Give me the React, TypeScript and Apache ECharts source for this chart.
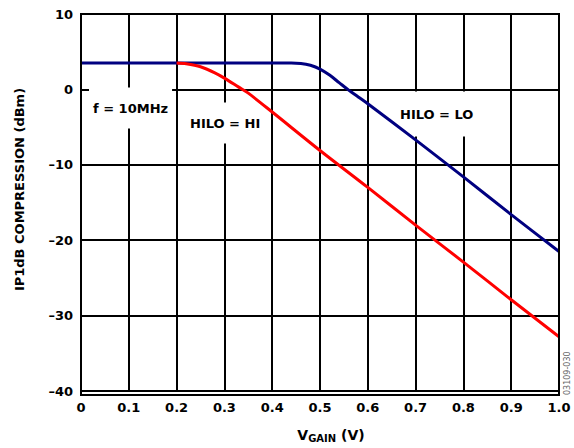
import React, { useEffect, useRef } from "react";
import * as echarts from "echarts";

const xTicks = [0, 0.1, 0.2, 0.3, 0.4, 0.5, 0.6, 0.7, 0.8, 0.9, 1.0];
const yTicks = [10, 0, -10, -20, -30, -40];

const loX = [0, 0.1, 0.2, 0.3, 0.4, 0.44, 0.46, 0.48, 0.5, 0.52, 0.54, 0.56, 0.58, 0.6, 0.7, 0.8, 0.9, 1.0];
const loY = [3.5, 3.5, 3.5, 3.5, 3.5, 3.5, 3.45, 3.2, 2.7, 1.9, 0.9, -0.1, -1.0, -1.9, -6.7, -11.6, -16.6, -21.5];

const hiX = [0.2, 0.22, 0.25, 0.28, 0.3, 0.33, 0.35, 0.4, 0.5, 0.6, 0.7, 0.8, 0.9, 1.0];
const hiY = [3.5, 3.4, 3.0, 2.2, 1.5, 0.3, -0.5, -3.0, -8.1, -13.0, -18.0, -22.9, -27.9, -32.8];

const FONT = "'DejaVu Sans', sans-serif";
const FS = 13;

export default function App() {
  const ref = useRef<HTMLDivElement>(null);
  useEffect(() => {
    if (!ref.current) return;
    const chart = echarts.init(ref.current, null, { renderer: "svg" });
    const txt = (text: string, x: number, y: number, pad: number[]) => ({
      type: "text",
      x,
      y,
      z: 1,
      style: {
        text,
        fill: "#000",
        font: `bold ${FS}px ${FONT}`,
        backgroundColor: "#fff",
        padding: pad,
        align: "left",
        verticalAlign: "middle",
      },
    });
    chart.setOption({
      animation: false,
      backgroundColor: "#fff",
      grid: { left: 81, top: 14, right: 15, bottom: 53, containLabel: false },
      xAxis: {
        type: "value",
        min: xTicks[0],
        max: xTicks[xTicks.length - 1],
        interval: 0.1,
        name: "{v|V}{s|GAIN}{v| (V)}",
        nameLocation: "middle",
        nameGap: 35,
        nameTextStyle: {
          padding: [0, 0, 0, 22],
          rich: {
            v: { fontFamily: FONT, fontWeight: "bold", fontSize: 14, color: "#000" },
            s: { fontFamily: FONT, fontWeight: "bold", fontSize: 10, color: "#000", padding: [7, 0, 0, 0] },
          },
        },
        axisLine: { show: true, lineStyle: { color: "#000", width: 2 } },
        axisTick: { show: false },
        axisLabel: {
          color: "#000",
          fontFamily: FONT,
          fontWeight: "bold",
          fontSize: FS,
          margin: 10,
          formatter: (v: number) => (v === 0 ? "0" : v.toFixed(1)),
        },
        splitLine: { show: true, lineStyle: { color: "#000", width: 2 } },
      },
      yAxis: {
        type: "value",
        min: yTicks[yTicks.length - 1],
        max: yTicks[0],
        interval: 10,
        name: "IP1dB COMPRESSION (dBm)",
        nameLocation: "middle",
        nameGap: 55,
        nameTextStyle: { color: "#000", fontFamily: FONT, fontWeight: "bold", fontSize: FS, padding: [0, 0, 0, 26] },
        axisLine: { show: true, lineStyle: { color: "#000", width: 2 } },
        axisTick: { show: false },
        axisLabel: {
          color: "#000",
          fontFamily: FONT,
          fontWeight: "bold",
          fontSize: FS,
          margin: 8,
          formatter: (v: number) => (v < 0 ? "\u2013" + Math.abs(v) : String(v)),
        },
        splitLine: { show: true, lineStyle: { color: "#000", width: 2 } },
      },
      graphic: [
        { type: "rect", shape: { x: 81, y: 14, width: 478, height: 381 }, style: { fill: "none", stroke: "#000", lineWidth: 2 }, z: 50 },
        txt("f = 10MHz", 89, 108, [14, 4, 14, 4]),
        txt("HILO = HI", 186, 123, [10, 4, 18, 4]),
        txt("HILO = LO", 396, 114, [15, 4, 17, 4]),
        {
          type: "text",
          x: 563,
          y: 395,
          rotation: Math.PI / 2,
          z: 100,
          style: { text: "03109-030", fill: "#666", font: `8px ${FONT}`, verticalAlign: "top" },
        },
      ],
      series: [
        {
          type: "line",
          name: "HILO = LO",
          data: loX.map((x, i) => [x, loY[i]]),
          showSymbol: false,
          smooth: 0.3,
          lineStyle: { color: "#000080", width: 3 },
          z: 10,
        },
        {
          type: "line",
          name: "HILO = HI",
          data: hiX.map((x, i) => [x, hiY[i]]),
          showSymbol: false,
          smooth: 0.3,
          lineStyle: { color: "#ff0000", width: 3 },
          z: 11,
        },
      ],
    });
    return () => chart.dispose();
  }, []);
  return <div ref={ref} style={{ width: 574, height: 448, position: "absolute", left: 0, top: 0 }} />;
}
